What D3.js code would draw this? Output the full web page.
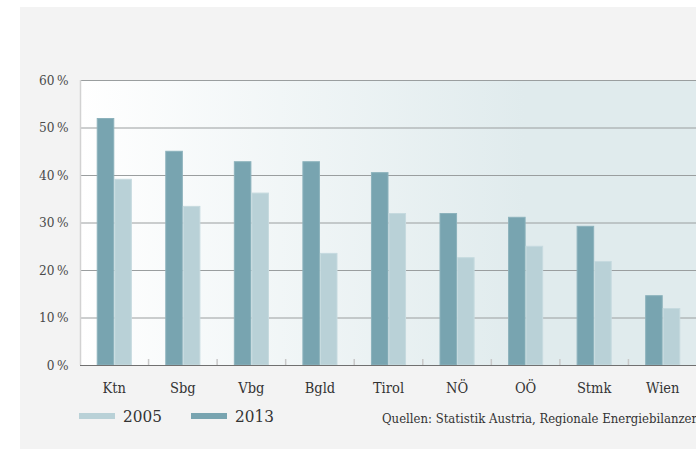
<!DOCTYPE html>
<html><head><meta charset="utf-8">
<script src="https://cdn.jsdelivr.net/npm/d3@7"></script>
<style>
html,body{margin:0;padding:0;background:#fff;overflow:hidden}
svg{display:block}
</style></head>
<body>
<script>
const categories = ["Ktn","Sbg","Vbg","Bgld","Tirol","NÖ","OÖ","Stmk","Wien"];
const values2005 = [39.2,33.5,36.3,23.6,32.0,22.7,25.1,21.9,12.0];
const values2013 = [52.0,45.1,42.9,42.9,40.6,32.0,31.2,29.3,14.7];
const yTicks = [0,10,20,30,40,50,60];
const seriesNames = ["2013","2005"];
const legendNames = ["2005","2013"];
const sourceText = "Quellen: Statistik Austria, Regionale Energiebilanzen";

(function(){
const W=696,H=449;
const colors={"2005":"#b9d1d7","2013":"#78a4b0"};
const strokes={"2005":"#c6dadf","2013":"#8cb2bc"};
const font="'DejaVu Serif Condensed','DejaVu Serif',serif";

const svg=d3.select("body").append("svg").attr("width",W).attr("height",H);
svg.append("rect").attr("x",20).attr("y",7).attr("width",W-20).attr("height",H-7).attr("fill","#f3f3f3");

const pL=80,pR=697,pT=80,pB=365;
const x0=d3.scaleBand().domain(categories).range([pL,pR]).paddingInner(0).paddingOuter(0);
const bw=x0.bandwidth();
const x1=d3.scaleBand().domain(seriesNames).range([bw*0.244,bw*0.756]);
const y=d3.scaleLinear().domain([0,60]).range([pB,pT]);

const defs=svg.append("defs");
const g=defs.append("linearGradient").attr("id","bg").attr("x1","0").attr("x2","1").attr("y1","0").attr("y2","0");
g.append("stop").attr("offset","0").attr("stop-color","#ffffff");
g.append("stop").attr("offset","0.72").attr("stop-color","#e0ebed");
g.append("stop").attr("offset","1").attr("stop-color","#e0ebed");
svg.append("rect").attr("x",pL).attr("y",pT).attr("width",pR-pL).attr("height",pB-pT).attr("fill","url(#bg)");

svg.append("g").selectAll("line").data(yTicks.filter(d=>d>0)).join("line")
  .attr("x1",pL).attr("x2",pR).attr("y1",d=>y(d)+0.5).attr("y2",d=>y(d)+0.5)
  .attr("stroke","#9a9e9f").attr("stroke-width",1);

svg.append("line").attr("x1",pL+0.5).attr("x2",pL+0.5).attr("y1",pT).attr("y2",pB)
  .attr("stroke","#d2d2d2").attr("stroke-width",1.5);

svg.append("g").selectAll("text").data(yTicks).join("text")
  .attr("x",68.5).attr("y",d=>y(d)).attr("dy","0.36em").attr("text-anchor","end")
  .attr("font-family",font).attr("font-size",13.5).attr("fill","#4a4a4a")
  .text(d=>d+"\u2009%");

const series=[{key:"2013",vals:values2013},{key:"2005",vals:values2005}];
series.forEach(s=>{
  svg.append("g").selectAll("rect").data(categories).join("rect")
    .attr("x",(c)=>x0(c)+x1(s.key)+0.5)
    .attr("y",(c,i)=>y(s.vals[i])+0.5)
    .attr("width",x1.bandwidth()-1)
    .attr("height",(c,i)=>pB-y(s.vals[i])-0.5)
    .attr("fill",colors[s.key]).attr("stroke",strokes[s.key]).attr("stroke-width",1);
});

svg.append("g").selectAll("line").data(categories.slice(1)).join("line")
  .attr("x1",c=>x0(c)).attr("x2",c=>x0(c)).attr("y1",pB-6).attr("y2",pB)
  .attr("stroke","#c8c8c8").attr("stroke-width",1.5);

svg.append("line").attr("x1",pL).attr("x2",pR).attr("y1",pB+0.5).attr("y2",pB+0.5)
  .attr("stroke","#707070").attr("stroke-width",1.2);

svg.append("g").selectAll("text").data(categories).join("text")
  .attr("x",c=>x0(c)+bw/2).attr("y",388).attr("dy","0.36em").attr("text-anchor","middle")
  .attr("font-family",font).attr("font-size",14.5).attr("fill","#333")
  .text(c=>c);

const lx=[79,191];
legendNames.forEach((n,i)=>{
  svg.append("rect").attr("x",lx[i]).attr("y",413).attr("width",36).attr("height",6).attr("fill",colors[n]);
  svg.append("text").attr("x",lx[i]+44).attr("y",416).attr("dy","0.36em")
    .attr("font-family",font).attr("font-size",17).attr("fill","#333").text(n);
});

svg.append("text").attr("x",382).attr("y",418).attr("dy","0.36em")
  .attr("font-family",font).attr("font-size",13).attr("fill","#333").text(sourceText);
})();
</script>
</body></html>
